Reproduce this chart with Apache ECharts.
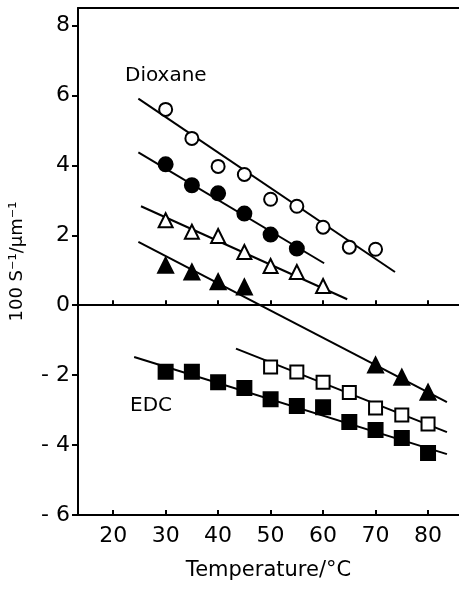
<!DOCTYPE html>
<html>
<head>
<meta charset="utf-8">
<script src="https://cdn.jsdelivr.net/npm/echarts@6/dist/echarts.min.js"></script>
<style>
html, body { margin: 0; padding: 0; background: #fff; }
#main { width: 459px; height: 589px; }
</style>
</head>
<body>
<div id="main"></div>
<script>
// tick labels
var xTicks = [20, 30, 40, 50, 60, 70, 80];
var yTicks = [-6, -4, -2, 0, 2, 4, 6, 8];

// Dioxane
var openCircle = [[30, 5.6], [35, 4.77], [40, 3.97], [45, 3.74], [50, 3.03], [55, 2.83], [60, 2.23], [65, 1.66], [70, 1.6]];
var filledCircle = [[30, 4.03], [35, 3.43], [40, 3.2], [45, 2.62], [50, 2.02], [55, 1.62]];
var openTriangle = [[30, 2.43], [35, 2.1], [40, 1.98], [45, 1.52], [50, 1.12], [55, 0.95], [60, 0.55]];
var filledTriangle = [[30, 1.14], [35, 0.95], [40, 0.67], [45, 0.52], [70, -1.71], [75, -2.06], [80, -2.49]];
// EDC
var openSquare = [[50, -1.77], [55, -1.91], [60, -2.2], [65, -2.5], [70, -2.94], [75, -3.14], [80, -3.4]];
var filledSquare = [[30, -1.9], [35, -1.9], [40, -2.2], [45, -2.37], [50, -2.69], [55, -2.88], [60, -2.92], [65, -3.34], [70, -3.57], [75, -3.8], [80, -4.23]];

// fitted lines (end points)
var fitOpenCircle = [[24.8, 5.91], [73.7, 0.95]];
var fitFilledCircle = [[24.8, 4.37], [60.2, 1.2]];
var fitOpenTriangle = [[25.3, 2.83], [64.6, 0.17]];
var fitFilledTriangle = [[24.8, 1.81], [83.6, -2.77]];
var fitOpenSquare = [[43.4, -1.24], [83.6, -3.63]];
var fitFilledSquare = [[24, -1.48], [83.6, -4.26]];

var myChart = echarts.init(document.getElementById('main'));

var font = 'DejaVu Sans';

function fitLine(data) {
    return {
        type: 'line', data: data, symbol: 'none', silent: true, z: 2,
        lineStyle: { color: '#000', width: 2 }
    };
}

function marks(data, symbol, filled, size) {
    return {
        type: 'scatter', data: data, symbol: symbol, symbolSize: size, z: 5,
        itemStyle: {
            color: filled ? '#000' : '#fff',
            borderColor: '#000',
            borderWidth: 2,
            opacity: 1
        }
    };
}

var option = {
    animation: false,
    backgroundColor: '#fff',
    grid: { left: 78, right: 0, top: 8, bottom: 74 },
    xAxis: [{
        type: 'value', min: 13.3, max: 85.9, position: 'bottom',
        name: 'Temperature/°C', nameLocation: 'middle', nameGap: 45,
        nameTextStyle: { fontFamily: font, fontSize: 21, color: '#000' },
        axisLine: { onZero: false, lineStyle: { color: '#000', width: 2 } },
        axisTick: { inside: true, length: 5, customValues: xTicks, lineStyle: { color: '#000', width: 2 } },
        axisLabel: { customValues: xTicks, margin: 10, fontFamily: font, fontSize: 22, color: '#000' },
        splitLine: { show: false }
    }, {
        type: 'value', min: 13.3, max: 85.9, position: 'top',
        axisLine: { onZero: false, lineStyle: { color: '#000', width: 2 } },
        axisTick: { show: false }, axisLabel: { show: false }, splitLine: { show: false }
    }, {
        type: 'value', min: 13.3, max: 85.9, position: 'bottom',
        axisLine: { onZero: true, lineStyle: { color: '#000', width: 2 } },
        axisTick: { inside: true, length: 5, customValues: xTicks, lineStyle: { color: '#000', width: 2 } },
        axisLabel: { show: false }, splitLine: { show: false }
    }],
    yAxis: {
        type: 'value', min: -6, max: 8.5,
        name: '100 S⁻¹/μm⁻¹', nameLocation: 'middle', nameGap: 52, nameRotate: 90,
        nameTextStyle: { fontFamily: font, fontSize: 18, color: '#000' },
        axisLine: { onZero: false, lineStyle: { color: '#000', width: 2 } },
        axisTick: { inside: false, length: 6, customValues: yTicks, lineStyle: { color: '#000', width: 2 } },
        axisLabel: {
            customValues: yTicks, margin: 8, fontFamily: font, fontSize: 22, color: '#000',
            formatter: function (v) { return v < 0 ? '- ' + Math.abs(v) : String(v); }
        },
        splitLine: { show: false }
    },
    graphic: [
        { type: 'text', left: 125, top: 66, style: { text: 'Dioxane', font: '20px "DejaVu Sans"', fill: '#000' } },
        { type: 'text', left: 130, top: 396, style: { text: 'EDC', font: '20px "DejaVu Sans"', fill: '#000' } }
    ],
    series: [
        fitLine(fitOpenCircle),
        fitLine(fitFilledCircle),
        fitLine(fitOpenTriangle),
        fitLine(fitFilledTriangle),
        fitLine(fitOpenSquare),
        fitLine(fitFilledSquare),
        marks(openCircle, 'circle', false, 13),
        marks(filledCircle, 'circle', true, 14),
        marks(openTriangle, 'triangle', false, 14),
        marks(filledTriangle, 'triangle', true, 15),
        marks(openSquare, 'rect', false, 13),
        marks(filledSquare, 'rect', true, 14)
    ]
};

myChart.setOption(option);
</script>
</body>
</html>
